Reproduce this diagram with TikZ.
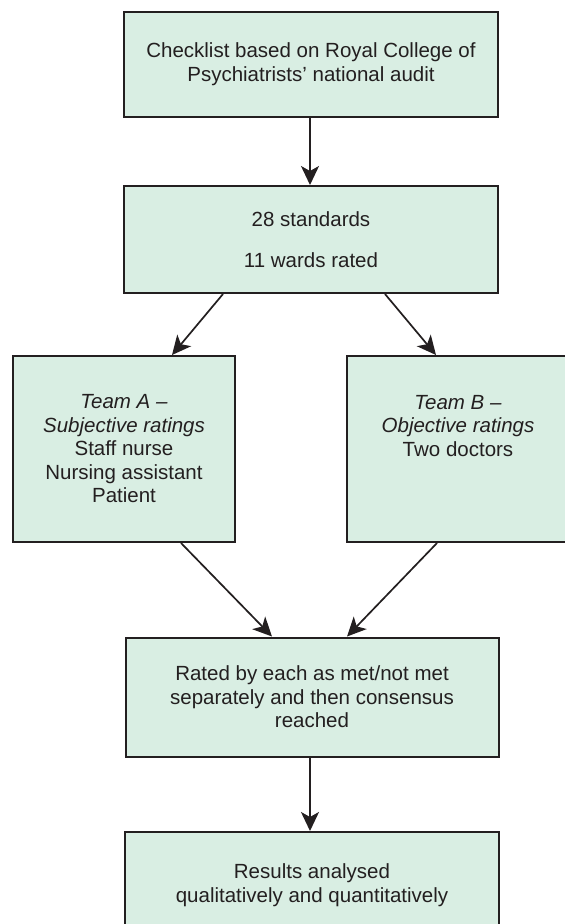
\documentclass[tikz,border=0pt]{standalone}
\usepackage{fontspec}
\setmainfont{Liberation Sans}
\usetikzlibrary{arrows.meta}
\definecolor{boxfill}{HTML}{D9EEE3}
\definecolor{ink}{HTML}{231F20}
\tikzset{
  box/.style={draw=ink, line width=2pt, fill=boxfill, rectangle, align=center,
    text=ink, inner sep=0pt, font=\fontsize{20.5}{23.5}\selectfont},
  conn/.style={draw=ink, line width=1.7pt,
    -{Stealth[length=19pt,width=18pt,inset=5pt]}}
}
\begin{document}
\begin{tikzpicture}[x=1pt,y=1pt]
\clip (0,0) rectangle (565,-924);
\fill[white] (0,0) rectangle (565,-924);
\node[box, minimum width=374pt, minimum height=105pt] (b1) at (311,-64)
  {Checklist based on Royal College of\\Psychiatrists' national audit};
\node[box, minimum width=374pt, minimum height=107pt] (b2) at (311,-239.5)
  {28 standards\\[18pt]11 wards rated};
\node[box, minimum width=222pt, minimum height=186pt] (ta) at (124,-449)
  {\textit{Team A –}\\\textit{Subjective ratings}\\Staff nurse\\Nursing assistant\\Patient};
\node[box, minimum width=222pt, minimum height=186pt] (tb) at (458,-449)
  {\textit{Team B –}\\\textit{Objective ratings}\\Two doctors\\\mbox{}\\\mbox{}};
\node[box, minimum width=373pt, minimum height=119pt] (b5) at (312,-697)
  {Rated by each as met/not met\\separately and then consensus\\reached};
\node[box, minimum width=374pt, minimum height=106pt] (b6) at (312,-885)
  {Results analysed\\qualitatively and quantitatively};
\draw[conn] ([xshift=-1pt]b1.south) -- ([xshift=-1pt]b2.north);
\draw[conn] ([xshift=-88pt]b2.south) -- ([xshift=48pt]ta.north);
\draw[conn] ([xshift=74pt]b2.south) -- ([xshift=-22pt]tb.north);
\draw[conn] ([xshift=57pt]ta.south) -- ([xshift=-40pt]b5.north);
\draw[conn] ([xshift=-21pt]tb.south) -- ([xshift=35pt]b5.north);
\draw[conn] ([xshift=-2pt]b5.south) -- ([xshift=-2pt]b6.north);
\end{tikzpicture}
\end{document}
